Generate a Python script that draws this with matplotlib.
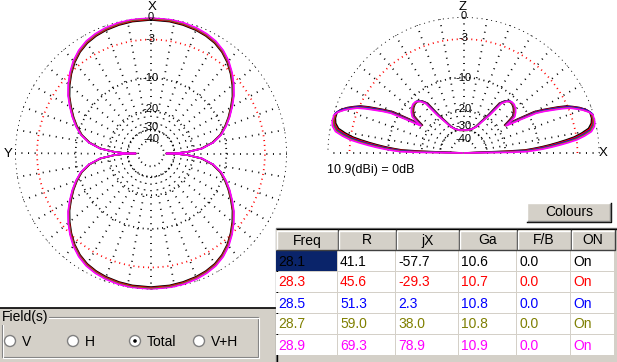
import numpy as np
import matplotlib.pyplot as plt
from matplotlib.patches import Rectangle, Circle

plt.rcParams['font.family'] = ['Liberation Sans', 'DejaVu Sans']

W, H = 617, 362

# table data
freq = [28.1, 28.3, 28.5, 28.7, 28.9]
res_r = [41.1, 45.6, 51.3, 59.0, 69.3]
res_jx = [-57.7, -29.3, 2.3, 38.0, 78.9]
gain_ga = [10.6, 10.7, 10.8, 10.8, 10.9]
f_b = [0.0, 0.0, 0.0, 0.0, 0.0]
on_state = ['On', 'On', 'On', 'On', 'On']
colors = ['#000000', '#FF0000', '#0000FF', '#808000', '#FF00FF']
ref_dbi = 10.9

# horizontal pattern, one quadrant (deg from X axis, dB), pattern is symmetric
az_deg = [0, 8, 14, 20, 25, 30, 35, 40, 45, 50, 55, 60, 65, 70, 75, 80, 84.4,
          87.3, 89, 90]
az_db = [0.0, -0.05, -0.15, -0.3, -0.5, -0.8, -1.3, -2.0, -2.9, -3.9, -5.0,
         -6.3, -7.6, -9.0, -10.6, -13.0, -16.5, -21.7, -27.0, -37.0]

# vertical pattern, elevation 0..90 (deg, dB) for 28.9, mirrored to the other side
el_deg = [0, 0.8, 1.2, 2.0, 2.9, 3.8, 4.7, 5.6, 6.6, 8.0, 9.5, 11.5, 13.6, 16.3,
          18.0, 19.8, 21.4, 22.9, 24.3, 25.6, 27.2, 28.7, 30.4, 32.5, 34.0, 35.3,
          38.0, 40.7, 43.8, 46.9, 50.0, 52.6, 55.3, 59.5, 63.7, 70.0, 78.5, 90]
el_db = [-80, -18.3, -13.0, -11.0, -9.0, -7.3, -5.8, -4.4, -3.0, -1.8, -0.8,
         -0.3, -0.1, -0.1, -0.5, -1.2, -2.0, -2.8, -4.0, -5.3, -6.8, -8.4, -12.4,
         -16.8, -14.6, -13.1, -12.2, -11.6, -11.2, -11.2, -11.9, -13.2, -18.3,
         -22.5, -26.0, -28.3, -29.8, -30.1]
el_shift = [1.6, 1.2, 0.8, 0.4, 0.0]  # lobes move down as freq goes up

ring_db = [0, -3, -10, -20, -30, -40]
ring_lbl = ['0', '-3', '-10', '-20', '-30', '-40']
lbl_lift = [1.0, 1.0, 0.0, 2.5, 3.5, 1.5]  # labels sit a little above the rings (px)

K = 0.059
R = 136
GRAY = '#D4D0C8'


def to_r(db):
    return np.exp(K * np.asarray(db, dtype=float))


def polar_axes(cx, cy, zero):
    ax = fig.add_axes([(cx - R) / W, (H - cy - R) / H, 2 * R / W, 2 * R / H],
                      projection='polar')
    ax.set_theta_zero_location(zero)
    ax.set_ylim(0, 1)
    ax.set_axis_off()
    return ax


def grid(ax, t0, t1, lbl_theta):
    th = np.linspace(np.radians(t0), np.radians(t1), 400)
    for db, lbl, lift in zip(ring_db, ring_lbl, lbl_lift):
        c = 'red' if db == -3 else 'black'
        ax.plot(th, np.full_like(th, to_r(db)), color=c, lw=1.25,
                ls=(0, (0.6, 2.2)))
        ax.text(lbl_theta, to_r(db) + lift / R, lbl, ha='center', va='center',
                fontsize=8)
    r_in = to_r(-30)
    for a in range(t0, t1 + 1 if t1 < 360 else t1, 10):
        ax.plot([np.radians(a)] * 2, [r_in, 1], color='black', lw=1.25,
                ls=(0, (0.6, 3.2)))


fig = plt.figure(figsize=(W / 100, H / 100), dpi=100)
fig.patch.set_facecolor('white')

ui = fig.add_axes([0, 0, 1, 1])
ui.set_xlim(0, W)
ui.set_ylim(H, 0)
ui.set_axis_off()

# left: horizontal plane
ax1 = polar_axes(151, 153.5, 'N')
grid(ax1, 0, 360, 0)
a = np.array(az_deg)
d = np.array(az_db)
full_a = np.concatenate([a, 180 - a[::-1], 180 + a, 360 - a[::-1]])
full_d = np.concatenate([d, d[::-1], d, d[::-1]])
for ga, c in zip(gain_ga, colors):
    ax1.plot(np.radians(full_a), to_r(full_d + ga - ref_dbi), color=c, lw=1.2)

# right: vertical plane
ax2 = polar_axes(463.5, 153, 'E')
grid(ax2, 0, 180, np.radians(90))
e = np.array(el_deg)
d = np.array(el_db)
for ga, sh, c in zip(gain_ga, el_shift, colors):
    th = np.concatenate([e + sh, 180 - (e + sh)[::-1]])
    rr = to_r(np.concatenate([d, d[::-1]]) + ga - ref_dbi)
    ax2.plot(np.radians(th), rr, color=c, lw=1.2)

ui.text(152, 7, 'X', ha='center', va='center', fontsize=9.5)
ui.text(8.5, 154, 'Y', ha='center', va='center', fontsize=9.5)
ui.text(463, 6.5, 'Z', ha='center', va='center', fontsize=9.5)
ui.text(603.5, 153.5, 'X', ha='center', va='center', fontsize=9.5)
ui.text(327, 170, '%.1f(dBi) = 0dB' % ref_dbi, ha='left', va='center', fontsize=9)

# field selector panel
ui.add_patch(Rectangle((0, 307.5), 276, 60, fc=GRAY, ec='none', zorder=1))
ui.plot([0, 276], [307.5, 307.5], color='black', lw=1.2, zorder=2)
ui.add_patch(Rectangle((2, 316.5), 256, 40.5, fc='none', ec='#808080', lw=0.8, zorder=2))
ui.add_patch(Rectangle((3, 317.5), 256, 40.5, fc='none', ec='white', lw=0.8, zorder=2))
ui.text(2, 317.5, 'Field(s)', ha='left', va='center', fontsize=10, zorder=3,
        bbox=dict(fc=GRAY, ec='none', pad=0.5))
for x, lbl, sel in [(10, 'V', False), (73, 'H', False), (135, 'Total', True),
                    (199, 'V+H', False)]:
    ui.add_patch(Circle((x, 341), 5.5, fc='white', ec='#808080', lw=1.0, zorder=3))
    if sel:
        ui.add_patch(Circle((x, 341), 1.8, fc='black', ec='none', zorder=4))
    ui.text(x + 12, 341.5, lbl, ha='left', va='center', fontsize=10, zorder=3)

# colours button
ui.add_patch(Rectangle((527, 203), 84, 19, fc=GRAY, ec='none', zorder=1))
ui.plot([527, 527, 611], [222, 203, 203], color='white', lw=1.0, zorder=2)
ui.plot([527, 611, 611], [222, 222, 203], color='black', lw=1.0, zorder=2)
ui.plot([528, 610, 610], [221, 221, 204], color='#808080', lw=1.0, zorder=2)
ui.text(569, 212.5, 'Colours', ha='center', va='center', fontsize=10, zorder=3)

# table
col_x = [276, 338, 396, 459, 517, 571, 615]
headers = ['Freq', 'R', 'jX', 'Ga', 'F/B', 'ON']
ui.add_patch(Rectangle((276, 228), 341, 140, fc=GRAY, ec='none', zorder=1))
ui.plot([276, 276, 617], [362, 228, 228], color='#808080', lw=1.0, zorder=2)
ui.plot([277, 277, 617], [362, 229, 229], color='black', lw=1.0, zorder=2)
for i, hd in enumerate(headers):
    x0, x1 = col_x[i], col_x[i + 1]
    ui.add_patch(Rectangle((x0, 230), x1 - x0, 20, fc=GRAY, ec='none', zorder=2))
    ui.plot([x0 + 1, x0 + 1, x1 - 1], [249, 230.5, 230.5], color='white', lw=1.0, zorder=3)
    ui.plot([x0 + 1, x1 - 0.5, x1 - 0.5], [249.5, 249.5, 230], color='#404040',
            lw=1.0, zorder=3)
    ui.text((x0 + x1) / 2, 240.5, hd, ha='center', va='center', fontsize=10, zorder=4)

rows = list(zip(freq, res_r, res_jx, gain_ga, f_b, on_state))
for j, (row, c) in enumerate(zip(rows, colors)):
    y0 = 251 + j * 21
    for i, v in enumerate(row):
        x0, x1 = col_x[i], col_x[i + 1]
        fc = '#0A246A' if (i == 0 and j == 0) else 'white'
        ui.add_patch(Rectangle((x0, y0), x1 - x0 - 1, 20, fc=fc, ec='none', zorder=2))
        s = v if isinstance(v, str) else '%.1f' % v
        ui.text(x0 + 2, y0 + 10.5, s, ha='left', va='center', fontsize=10,
                color=c, zorder=4)

fig.savefig('out.png', dpi=100)
